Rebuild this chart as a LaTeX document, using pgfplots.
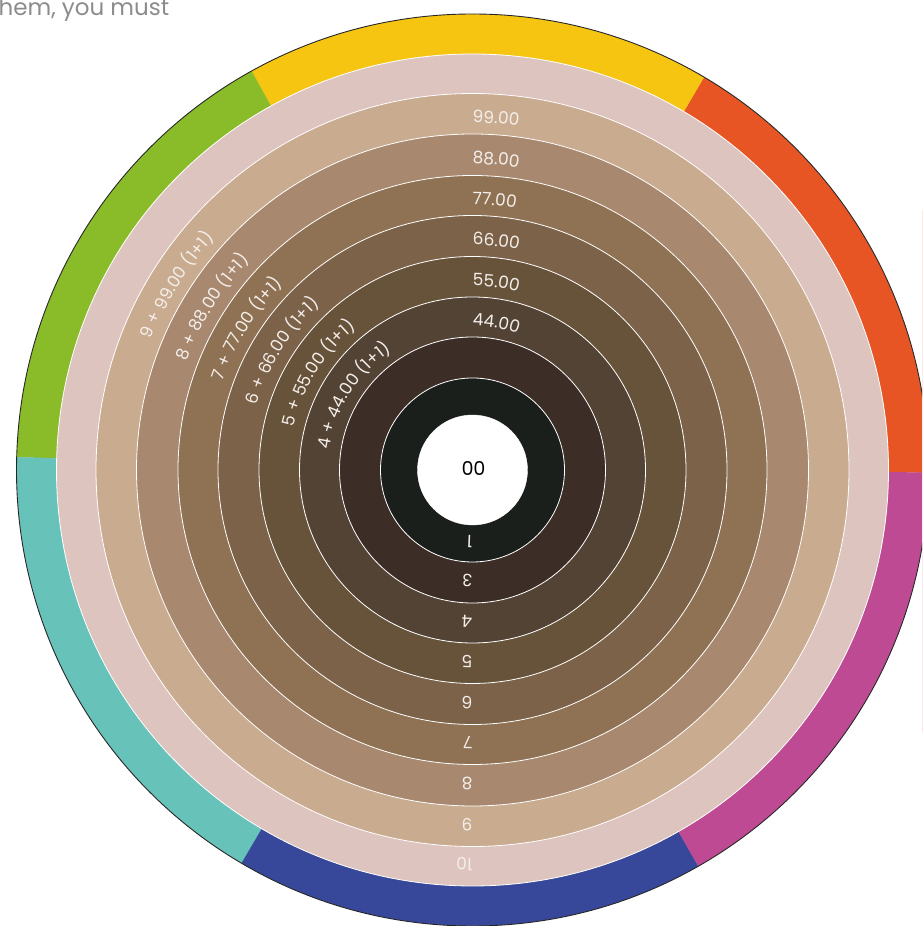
\documentclass[border=0pt]{standalone}
\usepackage{pgfplots}
\pgfplotsset{compat=1.18}
\usepackage{fontspec}
\setmainfont{Poppins}
\newfontfamily\labfont{Poppins}
\usetikzlibrary{decorations.text,calc}

\definecolor{cOrange}{HTML}{E85524}
\definecolor{cYellow}{HTML}{F5C512}
\definecolor{cGreen}{HTML}{89BC28}
\definecolor{cTeal}{HTML}{67C2BA}
\definecolor{cBlue}{HTML}{37489B}
\definecolor{cMagenta}{HTML}{BE4A93}
\definecolor{cRose}{HTML}{DDC4BF}
\definecolor{cNine}{HTML}{C9AB90}
\definecolor{cEight}{HTML}{A8886F}
\definecolor{cSeven}{HTML}{8F7253}
\definecolor{cSix}{HTML}{7B6249}
\definecolor{cFive}{HTML}{67533A}
\definecolor{cFour}{HTML}{524335}
\definecolor{cThree}{HTML}{3C2E26}
\definecolor{cOne}{HTML}{1B1F1C}
\definecolor{cGrayText}{HTML}{8C8C8C}
\definecolor{cLab}{HTML}{F4EEEA}

\newcommand\lab{\labfont\fontsize{17}{20}\selectfont\color{cLab}}

\pgfplotsset{
  disk/.style n args={2}{only marks, mark=*, mark size=#1pt,
     mark options={fill=#2, draw=white, line width=0.8pt}},
  wedge/.style={fill=#1, draw=#1, line width=0.4pt, mark=none},
}

% labels written along the rings (clockwise)
\newcommand\toplabel[2]{\path[decorate, decoration={text along path, text align=left,
   text={|\lab|#2}}] ($(axis cs:472.5,456)+(90:#1pt)$) arc[start angle=90, end angle=20, radius=#1pt];}
\newcommand\botlabel[2]{\path[decorate, decoration={text along path, text align=left,
   text={|\lab|#2}}] ($(axis cs:472.5,456)+(270:#1pt)$) arc[start angle=270, end angle=200, radius=#1pt];}
\newcommand\leftlabel[2]{\path[decorate, decoration={text along path, text align=center,
   text={|\lab|#2}}] ($(axis cs:472.5,456)+(200:#1pt)$) arc[start angle=200, end angle=96, radius=#1pt];}

\begin{document}
\begin{tikzpicture}
\begin{axis}[
  x=1pt, y=1pt, xmin=0, xmax=922, ymin=0, ymax=926,
  hide axis, clip marker paths=true,
]
% outer coloured segments (six categories)
\addplot[wedge=cOrange]  coordinates {(472.5,456) (992.5,453.3) (924.6,712.8) (736.4,904.0)};
\addplot[wedge=cYellow]  coordinates {(472.5,456) (736.4,904.0) (479.3,976.0) (220.4,910.8)};
\addplot[wedge=cGreen]   coordinates {(472.5,456) (220.4,910.8) (28.2,726.2) (-47.3,470.5)};
\addplot[wedge=cTeal]    coordinates {(472.5,456) (-47.3,470.5) (18.4,202.7) (209.3,7.5)};
\addplot[wedge=cBlue]    coordinates {(472.5,456) (209.3,7.5) (469.3,-64.0) (730.1,4.3)};
\addplot[wedge=cMagenta] coordinates {(472.5,456) (730.1,4.3) (921.5,193.6) (992.5,453.3)};
% mask outside the outer circle and outline
\addplot[only marks, mark=o, mark size=556pt, mark options={draw=white, line width=200pt}] coordinates {(472.5,456)};
\addplot[only marks, mark=o, mark size=456pt, mark options={draw=black!85, line width=0.9pt}] coordinates {(472.5,456)};
% concentric rings (outer radius, colour)
\addplot[disk={416}{cRose}]   coordinates {(472.5,456)};
\addplot[disk={376.5}{cNine}] coordinates {(472.5,456)};
\addplot[disk={336}{cEight}]  coordinates {(472.5,456)};
\addplot[disk={294.5}{cSeven}] coordinates {(472.5,456)};
\addplot[disk={254.5}{cSix}]  coordinates {(472.5,456)};
\addplot[disk={213.5}{cFive}] coordinates {(472.5,456)};
\addplot[disk={173}{cFour}]   coordinates {(472.5,456)};
\addplot[disk={133}{cThree}]  coordinates {(472.5,456)};
\addplot[disk={92}{cOne}]     coordinates {(472.5,456)};
\addplot[only marks, mark=*, mark size=55pt, mark options={fill=white, draw=white}] coordinates {(472.5,456)};

% top labels
\toplabel{347}{99.00}
\toplabel{306}{88.00}
\toplabel{265.5}{77.00}
\toplabel{225}{66.00}
\toplabel{184}{55.00}
\toplabel{144}{44.00}
% left labels
\leftlabel{347}{9 + 99.00 (1+1)}
\leftlabel{306}{8 + 88.00 (1+1)}
\leftlabel{265.5}{7 + 77.00 (1+1)}
\leftlabel{225}{6 + 66.00 (1+1)}
\leftlabel{184}{5 + 55.00 (1+1)}
\leftlabel{144}{4 + 44.00 (1+1)}
% bottom labels
\botlabel{65.5}{1}
\botlabel{104.5}{3}
\botlabel{145}{4}
\botlabel{185}{5}
\botlabel{226}{6}
\botlabel{266.5}{7}
\botlabel{307}{8}
\botlabel{348}{9}
\botlabel{388}{10}

\node[font=\labfont\fontsize{19}{22}\selectfont, text=black, rotate=180] at (axis cs:473.5,458) {00};
\node[anchor=base west, inner sep=0pt, text=cGrayText, font=\fontsize{23}{27}\selectfont] at (axis cs:-1.6,910) {hem, you must};
\end{axis}
\pgfresetboundingbox
\useasboundingbox (current axis.south west) rectangle (current axis.north east);
\end{tikzpicture}
\end{document}
